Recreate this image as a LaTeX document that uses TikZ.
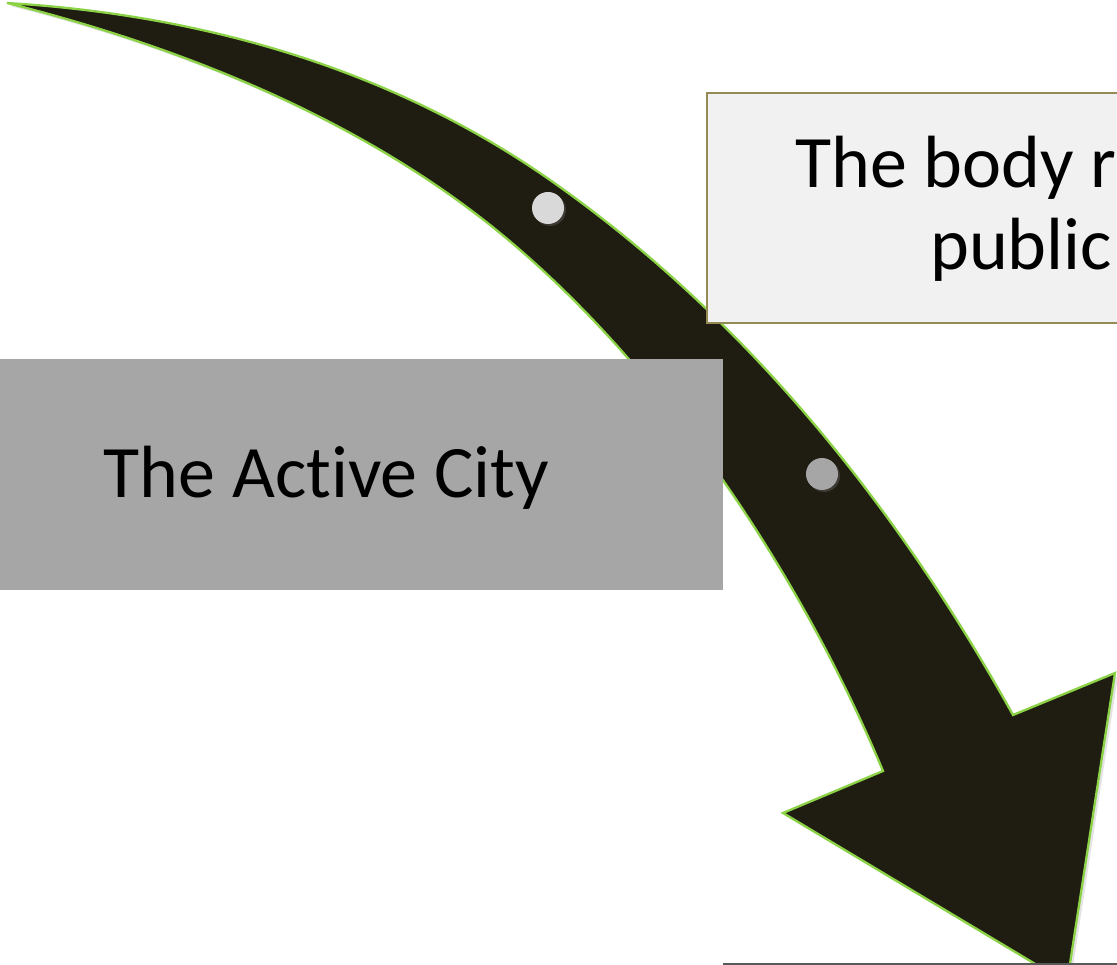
\documentclass[tikz,border=0pt]{standalone}
\usepackage{fontspec}
\setmainfont{Carlito}[Ligatures={NoCommon}]
\usetikzlibrary{shadows}
\definecolor{arrowfill}{RGB}{31,28,17}
\definecolor{arrowline}{RGB}{140,210,70}
\definecolor{cityfill}{RGB}{166,166,166}
\definecolor{bodyfill}{RGB}{241,241,241}
\definecolor{bodyline}{RGB}{148,138,84}
\definecolor{dotlight}{RGB}{217,217,217}
\definecolor{dotdark}{RGB}{166,166,166}
\definecolor{baseline}{RGB}{89,89,89}
\tikzset{
  bigarrow/.style={fill=arrowfill, draw=arrowline, line width=2.3pt, line join=miter,
    drop shadow={opacity=0.22, shadow xshift=3pt, shadow yshift=-3pt}},
  citybox/.style={rectangle, fill=cityfill, draw=none, inner sep=0pt,
    minimum width=723pt, minimum height=231pt},
  bodybox/.style={rectangle, fill=bodyfill, draw=bodyline, line width=2.2pt, inner sep=0pt,
    minimum width=440pt, minimum height=230pt},
  bigtext/.style={font=\fontsize{74}{82}\selectfont, inner sep=0pt, text=black},
  dotnode/.style={circle, inner sep=0pt, minimum size=32pt, draw=none,
    drop shadow={opacity=0.3, shadow xshift=2pt, shadow yshift=-2pt}},
  baseline rule/.style={draw=baseline, line width=3pt}
}
\begin{document}
\begin{tikzpicture}[x=1pt, y=-1pt]
\useasboundingbox (0,0) rectangle (1117,965);
\clip (0,0) rectangle (1117,965);
% curved arrow
\path[bigarrow]
  (7,3) .. controls (207,15) and (394.4,71.1) .. (550,180)
        .. controls (730.2,306) and (886.6,487.8) .. (1013,715)
  -- (1115,673) -- (1067,983) -- (783,813) -- (883,771)
        .. controls (806,586.4) and (670,372.5) .. (500,233)
        .. controls (361,119) and (182,47) .. (7,3)
  -- cycle;
% dots
\node[dotnode, fill=dotlight] (dotA) at (548,208) {};
\node[dotnode, fill=dotdark] (dotB) at (822,474) {};
% boxes
\node[bodybox] (body) at (927,208) {};
\node[bigtext, anchor=base west] (bodyA) at (795,188) {The body r};
\node[bigtext, anchor=base west] (bodyB) at (930,270) {public};
\node[citybox] (city) at (361.5,474.5) {};
\node[bigtext, anchor=base] (citytext) at (326.5,497) {The Active City};
% base rule
\coordinate (ruleL) at (723,964);
\coordinate (ruleR) at (1117,964);
\draw[baseline rule] (ruleL) -- (ruleR);
\end{tikzpicture}
\end{document}
